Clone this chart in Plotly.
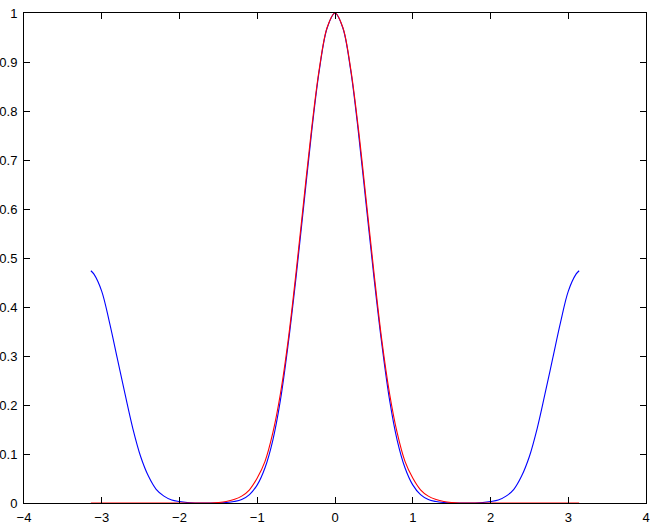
import plotly.graph_objects as go

# sample positions (rad)
x = [-3.14, -3.1, -3.0, -2.9, -2.8, -2.7, -2.6, -2.5, -2.4, -2.3, -2.2, -2.1,
     -2.0, -1.9, -1.8, -1.7, -1.6, -1.5, -1.4, -1.3, -1.2, -1.1, -1.0, -0.9,
     -0.8, -0.7, -0.6, -0.5, -0.4, -0.3, -0.2, -0.1, 0.0, 0.1, 0.2, 0.3, 0.4,
     0.5, 0.6, 0.7, 0.8, 0.9, 1.0, 1.1, 1.2, 1.3, 1.4, 1.5, 1.6, 1.7, 1.8,
     1.9, 2.0, 2.1, 2.2, 2.3, 2.4, 2.5, 2.6, 2.7, 2.8, 2.9, 3.0, 3.1, 3.14]

# blue curve
y_blue = [0.474, 0.467, 0.432, 0.368, 0.295, 0.222, 0.152, 0.095, 0.055, 0.028,
          0.014, 0.006, 0.003, 0.001, 0.0, 0.0, 0.0, 0.0, 0.001, 0.003, 0.007,
          0.017, 0.037, 0.072, 0.128, 0.212, 0.327, 0.462, 0.610, 0.758, 0.885,
          0.970, 1.0, 0.970, 0.885, 0.758, 0.610, 0.462, 0.327, 0.212, 0.128,
          0.072, 0.037, 0.017, 0.007, 0.003, 0.001, 0.0, 0.0, 0.0, 0.0, 0.001,
          0.003, 0.006, 0.014, 0.028, 0.055, 0.095, 0.152, 0.222, 0.295, 0.368,
          0.432, 0.467, 0.474]

# red curve
y_red = [0.0, 0.0, 0.0, 0.0, 0.0, 0.0, 0.0, 0.0, 0.0, 0.0, 0.0, 0.0, 0.0, 0.0,
         0.0, 0.0, 0.0, 0.001, 0.003, 0.007, 0.014, 0.027, 0.051, 0.085, 0.143,
         0.225, 0.335, 0.472, 0.620, 0.765, 0.888, 0.971, 1.0, 0.971, 0.888,
         0.765, 0.620, 0.472, 0.335, 0.225, 0.143, 0.085, 0.051, 0.027, 0.014,
         0.007, 0.003, 0.001, 0.0, 0.0, 0.0, 0.0, 0.0, 0.0, 0.0, 0.0, 0.0, 0.0,
         0.0, 0.0, 0.0, 0.0, 0.0, 0.0, 0.0]

x_ticks = [-4, -3, -2, -1, 0, 1, 2, 3, 4]
y_ticks = [0, 0.1, 0.2, 0.3, 0.4, 0.5, 0.6, 0.7, 0.8, 0.9, 1]

fig = go.Figure()
fig.add_trace(go.Scatter(x=x, y=y_blue, mode='lines',
                         line=dict(color='#0000ff', width=1.1, shape='spline', smoothing=1.0)))
fig.add_trace(go.Scatter(x=x, y=y_red, mode='lines',
                         line=dict(color='#ff0000', width=1.1, shape='spline', smoothing=1.0)))

ax = dict(showline=True, linecolor='black', linewidth=1, mirror='ticks',
          ticks='inside', ticklen=6, tickcolor='black', tickwidth=1,
          showgrid=False, zeroline=False, automargin=False,
          tickfont=dict(family='Liberation Sans, Arial, sans-serif', size=13, color='black'))

fig.update_layout(
    width=654, height=525,
    paper_bgcolor='white', plot_bgcolor='white',
    showlegend=False,
    margin=dict(l=24, r=8, t=13, b=22),
    xaxis=dict(range=[-4, 4], tickvals=x_ticks, ticklabelstandoff=2, **ax),
    yaxis=dict(range=[0, 1], tickvals=y_ticks, ticklabelstandoff=3, **ax),
)

# drop the page's default body margin so the figure sits at the corner
fig.write_html("out.html", config={'displayModeBar': False},
               post_script="document.body.style.margin='0';")
